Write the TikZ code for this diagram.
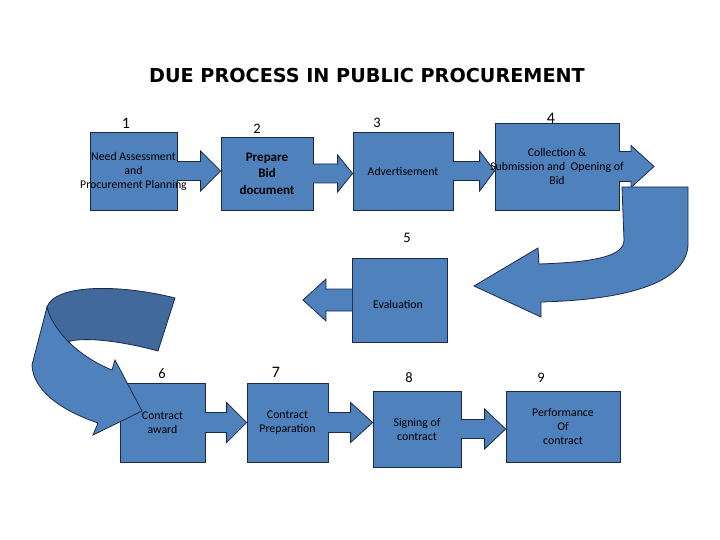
\documentclass[tikz,border=0pt]{standalone}
\usepackage{fontspec}
\setmainfont{Carlito}
\newfontfamily\titlefont{DejaVu Sans}
\usetikzlibrary{calc}
\definecolor{boxfill}{HTML}{4F81BD}
\definecolor{boxline}{HTML}{1B2A47}
\definecolor{ribdark}{HTML}{41699C}

\begin{document}
\begin{tikzpicture}[
  x=1pt,y=-1pt,
  box/.style={draw=boxline, fill=boxfill, line width=0.8pt, inner sep=0pt},
  blk/.style={draw=boxline, fill=boxfill, line width=0.8pt, line join=miter},
  rib/.style={draw=boxline, fill=boxfill, line width=0.8pt},
  txt/.style={text=black, align=center, font=\fontsize{11.8}{14}\selectfont},
  num/.style={text=black, font=\fontsize{14.5}{16}\selectfont},
  bignum/.style={num, font=\fontsize{16}{18}\selectfont},
]
\path[use as bounding box, fill=white] (0,0) rectangle (720,540);

% Title
\node[font=\titlefont\bfseries\fontsize{19.2}{22}\selectfont] (title) at (367,76)
  {DUE PROCESS IN PUBLIC PROCUREMENT};

% Top row
\node[box, minimum width=87, minimum height=78] (b1) at (133.5,171) {};
\node[box, minimum width=92, minimum height=73] (b2) at (267,173.5) {};
\node[box, minimum width=100, minimum height=78] (b3) at (403,171) {};
\node[box, minimum width=124, minimum height=87] (b4) at (557,166.5) {};

% Evaluation
\node[box, minimum width=95, minimum height=84] (b5) at (399.5,300) {};

% Bottom row
\node[box, minimum width=85, minimum height=79] (b6) at (162.5,422.5) {};
\node[box, minimum width=81, minimum height=79] (b7) at (287.5,422.5) {};
\node[box, minimum width=88, minimum height=76] (b8) at (417,429) {};
\node[box, minimum width=114, minimum height=71] (b9) at (563,426.5) {};

% Free ends
\coordinate (o4) at (654,166.5);
\coordinate (o5) at (303,300);

% Block arrows
\foreach \a/\b/\s/\h/\l in {b1.east/b2.west/9.5pt/20pt/20pt, b2.east/b3.west/9.5pt/18.5pt/15pt,
    b3.east/b4.west/9.5pt/20pt/15pt, b4.east/o4/15pt/21pt/23pt, b5.west/o5/11pt/21pt/23pt,
    b6.east/b7.west/10pt/20pt/20pt, b7.east/b8.west/10pt/20pt/22pt, b8.east/b9.west/9.5pt/20pt/21pt}{
  \filldraw[blk] let \p1=(\a), \p2=(\a -| \b), \p3=($(\p2)!\l!(\p1)$), \p4=($(\p1)!-0.6pt!(\p2)$) in
    (\x4,\y1+\s) -- (\x3,\y1+\s) -- (\x3,\y1+\h) -- (\x2,\y2) -- (\x3,\y1-\h) -- (\x3,\y1-\s) -- (\x4,\y1-\s);
}

% U-turn from 4 to 5
\draw[rib] (622,187) -- (688,187) -- (688,245) .. controls (686,285) and (620,300) .. (541,302)
  -- (541,317) -- (474,286) -- (538,248) -- (539,264) .. controls (600,262) and (624,255) .. (624,240)
  -- cycle;

% Ribbon from 5 to 6
\draw[rib, fill=ribdark] (47,307) .. controls (55,284) and (120,284) .. (175,298) -- (158,351)
  .. controls (125,342) and (85,336) .. (67,342) .. controls (57,333) and (50,320) .. (47,307) -- cycle;
\draw[rib] (47,307) .. controls (52,328) and (75,355) .. (112,370) -- (115,360) -- (142,411)
  -- (93,435) -- (98,423) .. controls (60,410) and (33,390) .. (32,365) -- cycle;

% Box texts
\node[txt] (t1) at (b1) {Need Assessment\\and\\Procurement Planning};
\node[txt, font=\bfseries\fontsize{13}{16.5}\selectfont] (t2) at (b2) {Prepare\\Bid\\document};
\node[txt] (t3) at (b3) {Advertisement};
\node[txt] (t4) at (b4) {Collection \&\\Submission and~ Opening of\\Bid};
\node[txt] (t5) at ($(b5)+(-1.5,4)$) {Evaluation};
\node[txt] (t6) at (b6) {Contract\\award};
\node[txt] (t7) at (b7) {Contract\\Preparation};
\node[txt] (t8) at (b8) {Signing of\\contract};
\node[txt] (t9) at (b9) {Performance\\Of\\contract};

% Step numbers
\node[bignum] (n1) at (126,123) {1};
\node[num] (n2) at (257,129) {2};
\node[num] (n3) at (377,123) {3};
\node[bignum] (n4) at (551,118) {4};
\node[num] (n5) at (407,238) {5};
\node[num] (n6) at (162,374) {6};
\node[bignum] (n7) at (276,372) {7};
\node[num] (n8) at (409,378) {8};
\node[num] (n9) at (541,378) {9};

\end{tikzpicture}
\end{document}
